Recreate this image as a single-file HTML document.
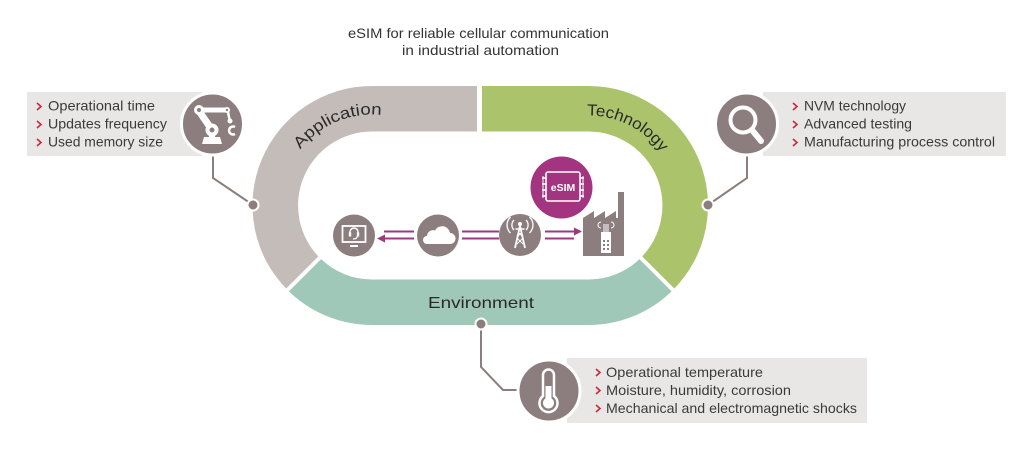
<!DOCTYPE html>
<html>
<head>
<meta charset="utf-8">
<style>
  html,body{margin:0;padding:0;background:#fff;}
  svg{display:block;}
  text{font-family:"Liberation Sans",sans-serif;}
</style>
</head>
<body>
<svg width="1024" height="450" viewBox="0 0 1024 450" xmlns="http://www.w3.org/2000/svg">
  <rect x="0" y="0" width="1024" height="450" fill="#ffffff"/>

  <!-- Title -->
  <text x="348" y="38" font-size="14" fill="#333" textLength="261" lengthAdjust="spacingAndGlyphs">eSIM for reliable cellular communication</text>
  <text x="402" y="55" font-size="14" fill="#333" textLength="157" lengthAdjust="spacingAndGlyphs">in industrial automation</text>

  <!-- Ring segments -->
  <!-- Application (gray) -->
  <path d="M479.5,86 L372,86 A119.5,119.5 0 0 0 287.5,290 L319.7,257.8 A74,74 0 0 1 372,131.5 L479.5,131.5 Z" fill="#c4bcb9"/>
  <!-- Technology (green) -->
  <path d="M479.5,86 L588.5,86 A119.5,119.5 0 0 1 673,290 L640.8,257.8 A74,74 0 0 0 588.5,131.5 L479.5,131.5 Z" fill="#abc46c"/>
  <!-- Environment (teal) -->
  <path d="M287.5,290 A119.5,119.5 0 0 0 372,325 L588.5,325 A119.5,119.5 0 0 0 673,290 L640.8,257.8 A74,74 0 0 1 588.5,279.5 L372,279.5 A74,74 0 0 1 319.7,257.8 Z" fill="#a0c8b9"/>
  <!-- white gaps -->
  <line x1="479.5" y1="82" x2="479.5" y2="136" stroke="#fff" stroke-width="5"/>
  <line x1="322.5" y1="255" x2="284" y2="293.5" stroke="#fff" stroke-width="4"/>
  <line x1="638" y1="255" x2="676.5" y2="293.5" stroke="#fff" stroke-width="4"/>

  <!-- Ring labels -->
  <path id="appPath" d="M300.3,149.5 A91,91 0 0 1 381.5,115.0" fill="none"/>
  <text font-size="16" fill="#2a2a2a"><textPath href="#appPath" textLength="92" lengthAdjust="spacingAndGlyphs">Application</textPath></text>
  <path id="techPath" d="M586.9,115.5 A90,90 0 0 1 661.3,152.6" fill="none"/>
  <text font-size="16" fill="#2a2a2a"><textPath href="#techPath" textLength="86" lengthAdjust="spacingAndGlyphs">Technology</textPath></text>
  <text x="428" y="308" font-size="16" fill="#2a2a2a" textLength="106" lengthAdjust="spacingAndGlyphs">Environment</text>

  <!-- Info boxes -->
  <rect x="27" y="92" width="175" height="64" fill="#e9e6e6"/>
  <rect x="763" y="92" width="243" height="64" fill="#e9e6e6"/>
  <rect x="567" y="358" width="300" height="65" fill="#e9e6e6"/>

  <!-- Connectors -->
  <g stroke="#8c7e7e" stroke-width="2" fill="none">
    <polyline points="213,150 213,178 253,205"/>
    <polyline points="747,150 747,178 708,205"/>
    <polyline points="481,324 481,367 503,390 525,390"/>
  </g>
  <!-- Dots -->
  <g fill="#8c7e7e" stroke="#fff" stroke-width="2">
    <circle cx="253" cy="205" r="5.5"/>
    <circle cx="708" cy="205" r="5.5"/>
    <circle cx="481" cy="324" r="5.5"/>
  </g>

  <!-- Icon circles for boxes -->
  <g fill="#8c7e7e" stroke="#fff" stroke-width="3">
    <circle cx="212.5" cy="124" r="31"/>
    <circle cx="746.5" cy="124" r="31"/>
    <circle cx="549" cy="391" r="31"/>
  </g>

  <!-- Robot arm icon -->
  <g fill="#fff" stroke="none">
    <polygon points="202,144 222,144 220,137 204,137"/>
    <line x1="212" y1="130" x2="199" y2="111" stroke="#fff" stroke-width="7"/>
    <line x1="199" y1="110" x2="227" y2="110" stroke="#fff" stroke-width="5"/>
    <line x1="212" y1="130" x2="212" y2="138" stroke="#fff" stroke-width="6"/>
    <circle cx="212" cy="130" r="6.5"/>
    <circle cx="212" cy="130" r="2.5" fill="#8c7e7e"/>
    <circle cx="199" cy="110" r="5"/>
    <circle cx="199" cy="110" r="2" fill="#8c7e7e"/>
    <circle cx="227" cy="110" r="3"/>
    <circle cx="227" cy="110" r="1.2" fill="#8c7e7e"/>
    <line x1="228" y1="112" x2="230" y2="122" stroke="#fff" stroke-width="2.5"/>
    <circle cx="230" cy="121" r="2.5"/>
    <path d="M235,127 A4,4 0 1 0 235,134" fill="none" stroke="#fff" stroke-width="2.5"/>
  </g>

  <!-- Magnifier icon -->
  <g fill="none" stroke="#fff">
    <circle cx="743" cy="120" r="12.5" stroke-width="4"/>
    <line x1="752" y1="130" x2="761" y2="141" stroke-width="6" stroke-linecap="round"/>
  </g>

  <!-- Thermometer icon -->
  <g>
    <path d="M543,396 L543,375 A5.5,5.5 0 0 1 554,375 L554,396 A9,9 0 1 1 543,396 Z" fill="none" stroke="#fff" stroke-width="2.5"/>
    <rect x="545.5" y="386" width="6" height="14" fill="#fff"/>
    <circle cx="548.5" cy="403" r="5.5" fill="#fff"/>
  </g>

  <!-- Box texts: chevrons -->
  <g fill="none" stroke="#c8283c" stroke-width="1.6">
    <polyline points="37,103 41,106.5 37,110"/>
    <polyline points="37,121 41,124.5 37,128"/>
    <polyline points="37,139 41,142.5 37,146"/>
    <polyline points="793,103 797,106.5 793,110"/>
    <polyline points="793,121 797,124.5 793,128"/>
    <polyline points="793,139 797,142.5 793,146"/>
    <polyline points="596,369 600,372.5 596,376"/>
    <polyline points="596,387 600,390.5 596,394"/>
    <polyline points="596,405 600,408.5 596,412"/>
  </g>
  <g font-size="14" fill="#3a3a3a">
    <text x="48" y="110.5" textLength="107" lengthAdjust="spacingAndGlyphs">Operational time</text>
    <text x="48" y="128.5" textLength="119" lengthAdjust="spacingAndGlyphs">Updates frequency</text>
    <text x="48" y="146.5" textLength="115" lengthAdjust="spacingAndGlyphs">Used memory size</text>
    <text x="804" y="110.5" textLength="102" lengthAdjust="spacingAndGlyphs">NVM technology</text>
    <text x="804" y="128.5" textLength="108" lengthAdjust="spacingAndGlyphs">Advanced testing</text>
    <text x="804" y="146.5" textLength="191" lengthAdjust="spacingAndGlyphs">Manufacturing process control</text>
    <text x="606" y="377" textLength="157" lengthAdjust="spacingAndGlyphs">Operational temperature</text>
    <text x="606" y="395" textLength="185" lengthAdjust="spacingAndGlyphs">Moisture, humidity, corrosion</text>
    <text x="606" y="413" textLength="251" lengthAdjust="spacingAndGlyphs">Mechanical and electromagnetic shocks</text>
  </g>

  <!-- Middle flow icons -->
  <g fill="#8c7e7e">
    <circle cx="354" cy="235.5" r="21"/>
    <circle cx="438" cy="235.5" r="21"/>
    <circle cx="520" cy="235" r="21"/>
  </g>

  <!-- Monitor with headset -->
  <g fill="none" stroke="#fff" stroke-width="1.8">
    <rect x="342.5" y="226" width="23" height="16"/>
    <line x1="350" y1="246" x2="358" y2="246" stroke-width="2"/>
    <path d="M350,235 L350,232 A4,4 0 0 1 358,232 L358,235" stroke-width="1.5"/>
    <path d="M357.5,236 Q357,239 353,239" stroke-width="1.2"/>
  </g>
  <rect x="348.8" y="232.5" width="2.4" height="4" fill="#fff"/>
  <rect x="356.8" y="232.5" width="2.4" height="4" fill="#fff"/>

  <!-- Cloud -->
  <path d="M427,244 L450,244 A5.5,5.5 0 0 0 450,233 A8,8 0 0 0 435,230.5 A6,6 0 0 0 427,236 A4,4 0 0 0 427,244 Z" fill="#fff"/>

  <!-- Tower with waves -->
  <g stroke="#fff" fill="none">
    <path d="M515,248 L520,226 L525,248" stroke-width="1.8"/>
    <path d="M517,238 L523,244 M523,238 L517,244 M518,232 L522,236 M522,232 L518,236" stroke-width="1"/>
    <line x1="515.5" y1="229" x2="524.5" y2="229" stroke-width="1.5"/>
    <circle cx="520" cy="224" r="2" fill="#fff" stroke="none"/>
    <path d="M514,220 A7,7 0 0 0 514,230" stroke-width="1.3"/>
    <path d="M510.5,217 A11,11 0 0 0 510.5,233" stroke-width="1.3"/>
    <path d="M526,220 A7,7 0 0 1 526,230" stroke-width="1.3"/>
    <path d="M529.5,217 A11,11 0 0 1 529.5,233" stroke-width="1.3"/>
  </g>

  <!-- Arrows -->
  <g stroke="#9c3a7d" stroke-width="2" fill="none">
    <line x1="384" y1="231.5" x2="414" y2="231.5"/>
    <line x1="383" y1="238.5" x2="414" y2="238.5"/>
    <line x1="462" y1="231.5" x2="499" y2="231.5"/>
    <line x1="462" y1="238.5" x2="499" y2="238.5"/>
    <line x1="545" y1="231.5" x2="575" y2="231.5"/>
    <line x1="545" y1="238.5" x2="574" y2="238.5"/>
  </g>
  <polygon points="377,238.5 385,234.5 385,242.5" fill="#9c3a7d"/>
  <polygon points="582,231.5 574,227.5 574,235.5" fill="#9c3a7d"/>

  <!-- eSIM chip -->
  <circle cx="561.5" cy="187.5" r="31" fill="#a3347f"/>
  <g stroke="#fff" fill="none" stroke-width="1.6">
    <rect x="546" y="172" width="34" height="29" rx="2"/>
    <line x1="542" y1="178" x2="546" y2="178"/>
    <line x1="542" y1="184" x2="546" y2="184"/>
    <line x1="542" y1="190" x2="546" y2="190"/>
    <line x1="542" y1="196" x2="546" y2="196"/>
    <line x1="580" y1="178" x2="584" y2="178"/>
    <line x1="580" y1="184" x2="584" y2="184"/>
    <line x1="580" y1="190" x2="584" y2="190"/>
    <line x1="580" y1="196" x2="584" y2="196"/>
    <line x1="543" y1="176" x2="543" y2="198" stroke-width="1"/>
    <line x1="583" y1="176" x2="583" y2="198" stroke-width="1"/>
  </g>
  <text x="563" y="191" font-size="10.5" font-weight="bold" fill="#fff" text-anchor="middle">eSIM</text>

  <!-- Factory -->
  <polygon points="583,256 583,218 594,211 594,218 605,211 605,218 616,211 616,218 618,218 618,192 624,192 624,256" fill="#8c7e7e"/>
  <rect x="601" y="232" width="10" height="21" fill="#fff"/>
  <g fill="#8c7e7e">
    <rect x="603" y="240" width="2" height="2"/>
    <rect x="607" y="240" width="2" height="2"/>
    <rect x="603" y="244" width="2" height="2"/>
    <rect x="607" y="244" width="2" height="2"/>
    <rect x="603" y="248" width="2" height="2"/>
    <rect x="607" y="248" width="2" height="2"/>
  </g>
  <g stroke="#fff" stroke-width="1" fill="none">
    <line x1="604" y1="224" x2="604" y2="232"/>
    <line x1="606" y1="224" x2="606" y2="232"/>
    <line x1="608" y1="224" x2="608" y2="232"/>
    <path d="M601,222 A3,3 0 0 0 601,228"/>
    <path d="M611,222 A3,3 0 0 1 611,228"/>
  </g>
</svg>
</body>
</html>
